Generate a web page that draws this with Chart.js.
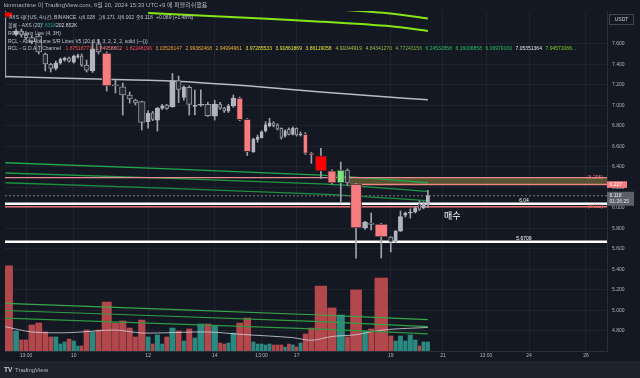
<!DOCTYPE html>
<html>
<head>
<meta charset="utf-8">
<script src="https://cdn.jsdelivr.net/npm/chart.js@4.4.1/dist/chart.umd.min.js"></script>
<style>
html, body { margin: 0; padding: 0; background: #141823; }
canvas { display: block; }
</style>
</head>
<body>
<canvas id="myChart" width="640" height="378"></canvas>
<script>
// AXS/USDT 4h candles (Binance)
var opens  = [7.909,7.694,7.724,7.685,7.66,7.675,7.50,7.40,7.36,7.412, 7.441,7.46,7.421,7.47,7.48,7.392,7.334,7.60,7.51,7.20,
              7.18,7.10,7.051,7.035,6.84,6.927,6.856,6.97,7.003,6.986, 7.24,7.077,7.175,6.99,7.00,7.01,6.894,7.012,6.973,6.944,
              6.995,7.07,6.863,6.547,6.668,6.684,6.75,6.80,6.83,6.81, 6.776,6.70,6.765,6.717,6.776,6.71,6.717,6.532,6.508,6.36,
              6.243,6.369,6.233,5.804,5.852,5.843,5.716,5.667,5.774,5.93, 5.95,5.96,6.04,6.00,6.028];
var highs  = [7.93,7.743,7.743,7.70,7.68,7.695,7.51,7.41,7.431,7.46, 7.47,7.47,7.49,7.50,7.50,7.441,7.636,7.64,7.52,7.246,
              7.217,7.13,7.06,7.04,6.948,6.94,6.98,7.01,7.01,7.31, 7.285,7.19,7.19,7.149,7.15,7.03,7.05,7.03,6.98,7.01,
              7.10,7.08,6.87,6.68,6.71,6.75,6.84,6.873,6.84,6.82, 6.78,6.76,6.78,6.79,6.78,6.74,6.733,6.54,6.58,6.37,
              6.447,6.38,6.24,5.87,5.95,5.85,5.72,5.78,5.97,5.96, 5.99,6.01,6.07,6.06,6.171];
var lows   = [7.27,7.675,7.665,7.64,7.60,7.50,7.334,7.324,7.344,7.40, 7.43,7.42,7.41,7.46,7.38,7.324,7.32,7.50,7.139,7.12,
              6.905,7.022,7.003,6.759,6.778,6.85,6.749,6.96,6.96,6.98, 7.025,7.05,6.905,6.905,6.99,6.89,6.856,6.96,6.93,6.93,
              6.98,6.85,6.51,6.54,6.64,6.68,6.74,6.79,6.79,6.76, 6.67,6.69,6.71,6.71,6.70,6.70,6.52,6.434,6.288,6.23,
              6.047,6.22,5.511,5.79,5.784,5.511,5.57,5.66,5.77,5.91, 5.90,5.95,5.975,5.99,6.002];
var closes = [7.86,7.724,7.685,7.66,7.62,7.52,7.402,7.36,7.412,7.451, 7.46,7.431,7.48,7.485,7.392,7.343,7.55,7.52,7.188,7.19,
              7.10,7.061,7.022,6.834,6.925,6.863,6.97,6.995,6.97,7.24, 7.155,7.175,7.009,7.00,7.01,6.898,7.012,6.973,6.944,6.99,
              7.07,6.86,6.547,6.668,6.69,6.742,6.81,6.83,6.80,6.766, 6.687,6.75,6.717,6.775,6.71,6.72,6.532,6.515,6.36,6.243,
              6.369,6.243,5.804,5.862,5.84,5.716,5.667,5.774,5.914,5.95, 5.96,6.00,5.985,6.05,6.118];
// volume in K (also sets candle width)
var volumes = [733,172,95,95,224,241,164,121,121,60, 78,103,86,43,43,181,164,181,422,241,
               259,198,121,267,121,60,138,60,121,198, 172,86,190,112,233,233,216,69,60,69,
               155,241,284,78,60,60,52,60,52,52, 52,34,60,52,34,69,147,198,560,371,
               310,121,526,172,190,629,129,86,129,86, 138,95,43,78,78];

// indicator colouring of some bars
var sellBars = [18, 41, 42, 56, 57, 59, 62, 65];
var strongSellBars = [0, 58];
var buyBars = [60];

// Main line (grey)
var mainBars = [0, 18, 29, 45, 58, 65, 74];
var mainVals = [7.28, 7.253, 7.236, 7.178, 7.129, 7.085, 7.053];
// G.O.A.T channel lines
var limeBars = [24, 45, 58, 66, 74];
var limeUpper = [8.03, 7.99, 7.945, 7.895, 7.845];
var limeLower = [7.90, 7.845, 7.815, 7.77, 7.724];
var chanBars = [0, 58, 74];
var greenHi = [6.44, 6.32, 6.245];
var greenMid = [6.34, 6.233, 6.160];
var greenLo = [6.245, 6.135, 6.070];
var olive1 = [5.07, 4.956, 4.910];
var olive2 = [5.00, 4.891, 4.843];
var olive3 = [4.925, 4.819, 4.772];
// volume MA (20)
var vmaBars = [0, 4, 11, 19, 23, 35, 41, 53, 57, 59, 62, 64, 66, 74];
var vmaVals = [210, 164, 158, 181, 155, 164, 144, 115, 92, 125, 140, 166, 187, 203];

// levels
var supportLevels = [6.04, 5.6709];
var supportLabels = ['6.04', '5.6709'];
var zoneTop = 6.295, zoneBottom = 6.227, zoneStartBar = 62;
var lowLevel = 6.011;
var lastPrice = 6.118, countdown = '01:26:25';

var priceTicks = [4.8, 5.0, 5.2, 5.4, 5.6, 5.8, 6.0, 6.2, 6.4, 6.6, 6.8, 7.0, 7.2, 7.4, 7.6];
var timeTickBars = [3, 12, 24, 36, 45, 54, 66, 78.8, 93.1, 107.4, 126.3];
var timeTickLabels = ['13:00', '10', '12', '14', '13:00', '17', '19', '21', '13:00', '24', '26'];

var goatValues = ['1.87518773','1.84958802','1.82248196','3.03526147','2.99382468','2.94994961','3.97285533','3.91861869','3.86119058',
                  '4.91044919','4.84341270','4.77243156','6.24532858','6.16006858','6.06979160','7.05351364','7.94571066...'];

// ---- x positions: each candle is as wide as its volume
var spans = [], lefts = [], centers = [];
var acc = 0;
for (let i = 0; i < volumes.length; i++) {
    spans[i] = 1 + volumes[i] / 175;
    lefts[i] = acc;
    centers[i] = acc + spans[i] / 2;
    acc += spans[i];
}
var X_MIN = 2.5, X_MAX = acc + 58.8;
function barPos(b) {
    if (b < volumes.length) return centers[b];
    return acc + (b - volumes.length) + 0.5;   // future bars, 1 unit each
}
function pts(bars, vals) {
    return bars.map(function (b, i) { return {x: barPos(b), y: vals[i]}; });
}
function flat(v, from) {
    return [{x: from, y: v}, {x: X_MAX, y: v}];
}

var BG = '#141823';
var FONT = "'Liberation Sans', 'Noto Sans CJK KR', sans-serif";
Chart.defaults.font.family = FONT;

var bodies = [], wicks = [], vols = [];
var bodyFill = [], bodyLine = [], volColor = [];
for (let i = 0; i < opens.length; i++) {
    var up = closes[i] >= opens[i];
    bodies.push({x: centers[i], y: [opens[i], closes[i]]});
    wicks.push({x: centers[i], y: [lows[i], highs[i]]});
    vols.push({x: centers[i], y: volumes[i]});
    volColor.push(up ? '#2a8a80' : '#b2474c');
    if (strongSellBars.indexOf(i) >= 0) { bodyFill.push('#ff0000'); bodyLine.push('#3a1f24'); }
    else if (sellBars.indexOf(i) >= 0) { bodyFill.push('#f77c80'); bodyLine.push('#3a2a30'); }
    else if (buyBars.indexOf(i) >= 0) { bodyFill.push('#7be37c'); bodyLine.push('#2b4a33'); }
    else if (up) { bodyFill.push('#b2b5be'); bodyLine.push('#b2b5be'); }
    else { bodyFill.push('#262a35'); bodyLine.push('#9598a1'); }
}

function lineDs(data, color, width, order, extra) {
    var d = {type: 'line', data: data, borderColor: color, borderWidth: width, pointRadius: 0, fill: false, order: order, tension: 0.25};
    for (var k in extra) d[k] = extra[k];
    return d;
}

var datasets = [
    {type: 'bar', label: 'body', data: bodies, backgroundColor: bodyFill, borderColor: bodyLine, borderWidth: 1,
     borderSkipped: false, grouped: false, barThickness: 3, minBarLength: 1, order: 1, clip: 0, fitSpan: true},
    {type: 'bar', label: 'wick', data: wicks, backgroundColor: '#9fa2ab', grouped: false, barThickness: 1, order: 2, clip: 0},
    lineDs(flat(supportLevels[0], X_MIN), '#ffffff', 2.5, 3, {tension: 0}),
    lineDs(flat(supportLevels[1], X_MIN), '#ffffff', 2.5, 3, {tension: 0}),
    lineDs(flat(lowLevel, X_MIN), '#e57373', 1.5, 3, {tension: 0}),
    lineDs(flat(zoneTop, X_MIN), '#e88a8e', 1.2, 3, {tension: 0}),
    lineDs(flat(zoneBottom, lefts[zoneStartBar]), '#ef8686', 1.5, 3, {tension: 0}),
    lineDs(flat(lastPrice, X_MIN), '#787b86', 1, 3, {tension: 0, borderDash: [2, 2]}),
    lineDs(pts(mainBars, mainVals), '#b8bbc4', 1.5, 4),
    lineDs(pts(limeBars, limeUpper), '#84e617', 2, 4),
    lineDs(pts(limeBars, limeLower), '#84e617', 2, 4),
    lineDs(pts(chanBars, greenHi), '#22a84a', 1.3, 4),
    lineDs(pts(chanBars, greenMid), '#1f9a44', 1.3, 4),
    lineDs(pts(chanBars, greenLo), '#1d8f40', 1.3, 4),
    lineDs(pts(chanBars, olive1), '#3aa84a', 1.2, 4),
    lineDs(pts(chanBars, olive2), '#33a045', 1.2, 4),
    lineDs(pts(chanBars, olive3), '#2f9a42', 1.2, 4),
    // olive zone box
    lineDs(flat(zoneTop, lefts[zoneStartBar]), 'rgba(0,0,0,0)', 0, 6, {tension: 0, fill: '+1', backgroundColor: 'rgba(128,124,56,0.6)'}),
    lineDs(flat(zoneBottom, lefts[zoneStartBar]), 'rgba(0,0,0,0)', 0, 6, {tension: 0}),
    lineDs(pts(vmaBars, vmaVals), 'rgba(209,212,220,0.8)', 1, 7, {yAxisID: 'yv', tension: 0.3}),
    {type: 'bar', label: 'volume', data: vols, yAxisID: 'yv', backgroundColor: volColor, borderWidth: 0,
     grouped: false, barThickness: 3, order: 8, clip: 0, fitSpan: true}
];

function put(ctx, s, x, y, color, size, align, bold) {
    ctx.font = (bold ? 'bold ' : '') + size + 'px ' + FONT;
    ctx.fillStyle = color;
    ctx.textAlign = align || 'left';
    ctx.textBaseline = 'middle';
    ctx.fillText(s, x, y);
}

var tvPlugin = {
    id: 'tvExtras',
    beforeDraw: function (chart) {
        var ctx = chart.ctx;
        ctx.save();
        ctx.fillStyle = BG;
        ctx.fillRect(0, 0, chart.width, chart.height);
        ctx.fillStyle = '#1e222d';
        ctx.fillRect(0, 362, chart.width, chart.height - 362);
        ctx.fillStyle = '#2a2e39';
        ctx.fillRect(0, 361.5, chart.width, 1);
        ctx.restore();
    },
    afterDatasetsUpdate: function (chart) {
        // stretch bodies and volume bars over their volume span
        var xs = chart.scales.x;
        chart.data.datasets.forEach(function (ds, di) {
            if (!ds.fitSpan) return;
            chart.getDatasetMeta(di).data.forEach(function (el, i) {
                var l = xs.getPixelForValue(lefts[i]);
                var r = xs.getPixelForValue(lefts[i] + spans[i]);
                el.x = (l + r) / 2;
                el.width = Math.max(1, r - l - 1);
            });
        });
    },
    afterDraw: function (chart) {
        var ctx = chart.ctx, ys = chart.scales.y;
        ctx.save();
        put(ctx, 'kimmachine 이 TradingView.com, 6월 20, 2024 15:33 UTC+9 에 퍼블리쉬했음', 4, 5, '#b2b5be', 6);

        // legend
        var tx = '#c3c6ce';
        put(ctx, 'AXS 테더US, 4시간, BINANCE', 9, 18, tx, 5);
        put(ctx, '시6.028', 78, 18, tx, 5);
        put(ctx, '고6.171', 98, 18, tx, 5);
        put(ctx, '저6.002', 117, 18, tx, 5);
        put(ctx, '종6.118', 136, 18, tx, 5);
        put(ctx, '+0.089 (+1.48%)', 156, 18, tx, 5);
        put(ctx, '볼륨 - AXS (20)', 8, 25.7, tx, 5);
        put(ctx, '77.631K', 38, 25.7, '#26a69a', 5);
        put(ctx, '202.852K', 56, 25.7, '#d1d4dc', 5);
        put(ctx, 'RCL - Main Line (4, 3H)', 8, 33.5, tx, 5);
        put(ctx, 'RCL - Auto Volume S/R Lines V5 (20, 1.5, 3, 2, 2, 2, solid (—|))', 8, 41.2, tx, 5);
        put(ctx, 'RCL - G.O.A.T Channel', 8, 48.8, tx, 5);
        var goatColors = ['#ff4d4d','#f77c80','#ff4d4d','#f39a2e','#f5a63a','#f0b030','#e8e233','#ece83e','#e8e233',
                          '#a8c33e','#93bf3e','#7db83e','#2dbd5a','#27c05e','#22c55e','#e0e3eb','#7ed321'];
        for (let i = 0; i < goatValues.length; i++) {
            put(ctx, goatValues[i], 65.5 + 30 * i, 48.8, goatColors[i], 5);
        }

        // level labels
        for (let i = 0; i < supportLevels.length; i++) {
            put(ctx, supportLabels[i], 524, ys.getPixelForValue(supportLevels[i]) - 3.2, '#ffffff', 5, 'center');
        }
        put(ctx, '(' + zoneTop.toFixed(3) + ') -', 606, ys.getPixelForValue(zoneTop), '#e57373', 5, 'right');
        put(ctx, '(' + lowLevel.toFixed(3) + ') -', 606, ys.getPixelForValue(lowLevel), '#e57373', 5, 'right');
        put(ctx, '매수', 444, 217, '#ffffff', 9);

        // price axis badges
        var yz = ys.getPixelForValue(zoneBottom);
        ctx.fillStyle = '#f77c80';
        ctx.fillRect(607, yz - 3.3, 20, 6.6);
        put(ctx, zoneBottom.toFixed(3), 609.5, yz, '#ffffff', 5);
        var yl = ys.getPixelForValue(lastPrice);
        ctx.fillStyle = '#5d606b';
        ctx.fillRect(607, yl - 4, 27, 14);
        put(ctx, lastPrice.toFixed(3), 609.5, yl, '#e0e3eb', 5);
        put(ctx, countdown, 609.5, yl + 6.3, '#e0e3eb', 5);

        ctx.strokeStyle = '#434651';
        ctx.lineWidth = 1;
        ctx.strokeRect(609.5, 14.5, 24, 10);
        put(ctx, 'USDT', 621.5, 19.5, '#d1d4dc', 5, 'center');

        put(ctx, 'TV', 4, 370, '#d1d4dc', 6.5, 'left', true);
        put(ctx, 'TradingView', 15, 370, '#b2b5be', 6);
        ctx.restore();
    }
};

const config = {
    type: 'bar',
    data: {datasets: datasets},
    options: {
        responsive: false,
        animation: false,
        layout: {padding: {top: 11, left: 5, right: 0, bottom: 16}},
        plugins: {legend: {display: false}, tooltip: {enabled: false}},
        scales: {
            x: {
                type: 'linear', min: X_MIN, max: X_MAX, offset: false,
                grid: {color: 'rgba(42,46,57,0.55)', drawTicks: false, offset: false},
                border: {display: true, color: '#2a2e39'},
                ticks: {
                    color: '#b2b5be', font: {size: 5}, padding: 2, autoSkip: false, maxRotation: 0,
                    callback: function (v, i) { return timeTickLabels[i]; }
                },
                afterBuildTicks: function (s) { s.ticks = timeTickBars.map(function (b) { return {value: barPos(b)}; }); },
                afterFit: function (s) { s.height = 11; }
            },
            y: {
                position: 'right', min: 4.605, max: 7.919,
                grid: {color: 'rgba(42,46,57,0.55)', drawTicks: false},
                border: {display: true, color: '#2a2e39'},
                ticks: {color: '#b2b5be', font: {size: 5}, padding: 5, callback: function (v) { return v.toFixed(3); }},
                afterBuildTicks: function (s) { s.ticks = priceTicks.map(function (v) { return {value: v}; }); },
                afterFit: function (s) { s.width = 33; }
            },
            yv: {type: 'linear', display: false, min: 0, max: 2930}
        }
    },
    plugins: [tvPlugin]
};

const myChart = new Chart(document.getElementById('myChart'), config);
</script>
</body>
</html>
